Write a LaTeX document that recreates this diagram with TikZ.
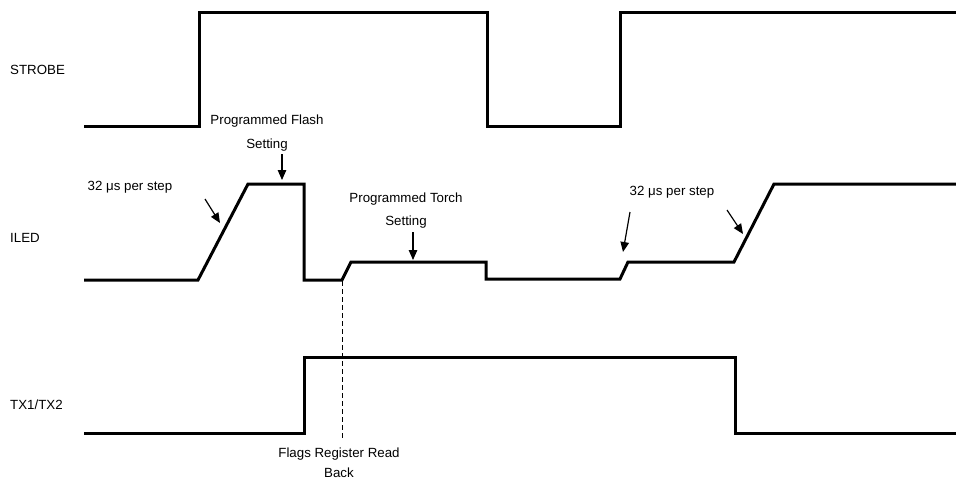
\documentclass[tikz,border=0pt]{standalone}
\usepackage{fontspec}
\setmainfont{Liberation Sans}
\usetikzlibrary{arrows.meta}
\begin{document}
\begin{tikzpicture}[x=1pt,y=-1pt,
  wave/.style={line width=3pt, line join=miter},
  lbl/.style={font=\fontsize{13.3}{23}\selectfont, inner sep=0pt, align=center},
  sig/.style={font=\fontsize{13.3}{15}\selectfont, inner sep=0pt, anchor=west},
  pointer/.style={line width=1.2pt, -{Triangle[length=10pt,width=8.5pt]}},
  marker/.style={line width=1pt, dash pattern=on 5pt off 3pt}]
\useasboundingbox (0,0) rectangle (956,480);
% signal names
\node[sig] (strobe) at (10,70) {STROBE};
\node[sig] (iled) at (10,238) {ILED};
\node[sig] (tx) at (10,405) {TX1/TX2};
% waveforms
\draw[wave] (84,126) -| (199,12) -| (487,126) -| (620,12) -- (956,12);
\draw[wave] (84,280) -- (198,280) -- (248,184) -- (304,184) -- (304,280)
  -- (342,280) -- (351,262) -- (486,262) -- (486,279) -- (620,279)
  -- (628,262) -- (734,262) -- (774,184) -- (956,184);
\draw[wave] (84,433) -| (304,357) -| (735,433) -- (956,433);
% marker
\coordinate (mtop) at (342,281);
\coordinate (mbot) at (342,440);
\draw[marker] (mtop) -- (mbot);
% labels
\node[lbl, font=\fontsize{13.3}{24}\selectfont] (flash) at (267,133) {Programmed Flash\\Setting};
\node[lbl] (torch) at (406,211) {Programmed Torch\\Setting};
\node[lbl] (stepA) at (130,187) {32 μs per step};
\node[lbl] (stepB) at (672,192) {32 μs per step};
\node[lbl, font=\fontsize{13.3}{20}\selectfont] (flags) at (339,463) {Flags Register Read\\Back};
% pointers
\coordinate (flashS) at (282,154);
\coordinate (flashT) at (282,180);
\draw[pointer] (flashS) -- (flashT);
\coordinate (torchS) at (413,232);
\coordinate (torchT) at (413,260);
\draw[pointer] (torchS) -- (torchT);
\coordinate (aS) at (205,199);
\coordinate (aT) at (220,223);
\draw[pointer] (aS) -- (aT);
\coordinate (bS) at (630,212);
\coordinate (bT) at (623,252);
\draw[pointer] (bS) -- (bT);
\coordinate (cS) at (727,210);
\coordinate (cT) at (743,234);
\draw[pointer] (cS) -- (cT);
\end{tikzpicture}
\end{document}
